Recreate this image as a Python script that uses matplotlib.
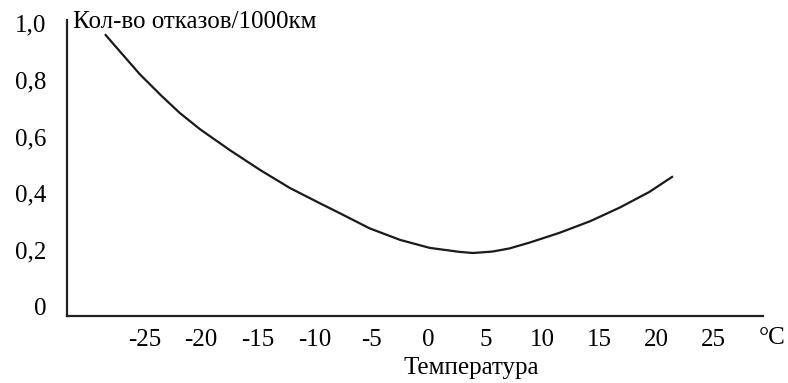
import matplotlib
matplotlib.use("Agg")
from matplotlib import pyplot as plt

# значения
temperature = [-28.4, -27.1, -25.4, -23.6, -21.9, -20.1, -17.5, -14.8, -12.2, -9.6, -7.8,
               -5.2, -2.5, 0.1, 2.7, 3.9, 5.6, 7.1, 8.9, 11.5, 14.2, 16.8, 19.4, 21.4]
failures = [0.958, 0.898, 0.820, 0.748, 0.684, 0.626, 0.553, 0.482, 0.419, 0.366, 0.330,
            0.277, 0.236, 0.208, 0.194, 0.190, 0.195, 0.206, 0.227, 0.261, 0.302, 0.350, 0.405, 0.458]

x_ticks = [-25, -20, -15, -10, -5, 0, 5, 10, 15, 20, 25]
y_ticks = [0, 0.2, 0.4, 0.6, 0.8, 1.0]
y_labels = ["0", "0,2", "0,4", "0,6", "0,8", "1,0"]

W, H = 788, 383
plt.rcParams["font.family"] = ["Liberation Serif", "DejaVu Serif"]
fs = 18

fig = plt.figure(figsize=(W / 100, H / 100), dpi=100)
ax = fig.add_axes([67 / W, 1 - 316 / H, (763 - 67) / W, (316 - 20) / H])

ax.plot(temperature, failures, color="#1a1a1a", lw=1.6, solid_joinstyle="round")

ax.set_xlim(-31.8, 29.4)
ax.set_ylim(-0.032, 1.011)

ax.set_xticks(x_ticks)
ax.set_xticklabels([str(t) for t in x_ticks])
ax.set_yticks(y_ticks)
ax.set_yticklabels(y_labels)
ax.tick_params(axis="both", length=0, labelsize=fs, colors="black")
ax.tick_params(axis="x", pad=9)
ax.tick_params(axis="y", pad=15)

for side in ("top", "right"):
    ax.spines[side].set_visible(False)
for side in ("left", "bottom"):
    ax.spines[side].set_linewidth(1.6)
    ax.spines[side].set_color("#222222")

fig.text(73 / W, 1 - 22 / H, "Кол-во отказов/1000км", ha="left", va="center", fontsize=fs)
fig.text(471 / W, 1 - 368 / H, "Температура", ha="center", va="center", fontsize=fs)
fig.text(772 / W, 1 - 338 / H, "°C", ha="center", va="center", fontsize=fs)

fig.savefig("out.png", dpi=100)
